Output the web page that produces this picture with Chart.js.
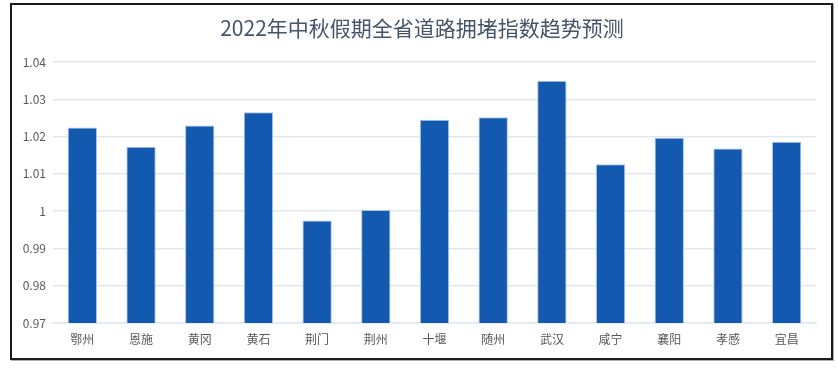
<!DOCTYPE html>
<html>
<head>
<meta charset="utf-8">
<script src="https://cdn.jsdelivr.net/npm/chart.js@4"></script>
<style>
  html, body { margin: 0; padding: 0; background: #ffffff; }
  #wrap { position: relative; width: 838px; height: 373px; }
  #frame {
    position: absolute; left: 10px; top: 3px; width: 823px; height: 357px;
    box-sizing: border-box; border: 2px solid #1c1c1c;
    box-shadow: 1px 1px 0 #b0b0b0; pointer-events: none;
  }
</style>
</head>
<body>
<div id="wrap">
  <canvas id="trafficChart" width="838" height="373"></canvas>
  <div id="frame"></div>
</div>
<script>
// 2022 mid-autumn congestion index forecast per city
const cities = ['鄂州', '恩施', '黄冈', '黄石', '荆门', '荆州', '十堰', '随州', '武汉', '咸宁', '襄阳', '孝感', '宜昌'];
const congestionIndex = [1.0224, 1.0173, 1.0230, 1.0265, 0.9975, 1.0003, 1.0245, 1.0252, 1.0350, 1.0126, 1.0197, 1.0168, 1.0186];
const yTicks = [0.97, 0.98, 0.99, 1, 1.01, 1.02, 1.03, 1.04];
const chartTitle = '2022年中秋假期全省道路拥堵指数趋势预测';

const cjkFont = "'Noto Sans CJK SC', 'Noto Sans', sans-serif";

// title is centred over the whole frame, not the canvas, so draw it by hand
const framedTitle = {
  id: 'framedTitle',
  afterDraw: function(chart) {
    const c = chart.ctx;
    c.save();
    c.font = '21px ' + cjkFont;
    c.fillStyle = '#44546a';
    c.textAlign = 'center';
    c.textBaseline = 'middle';
    c.fillText(chartTitle, 422, 28);
    c.restore();
  }
};

const ctx = document.getElementById('trafficChart').getContext('2d');
new Chart(ctx, {
  type: 'bar',
  data: {
    labels: cities,
    datasets: [
      {
        label: '拥堵指数',
        data: congestionIndex,
        backgroundColor: '#1359b0',
        borderColor: '#a9c6ec',
        borderWidth: 1,
        borderSkipped: 'bottom',
        categoryPercentage: 1,
        barPercentage: 0.5,
      }
    ]
  },
  options: {
    responsive: false,
    animation: false,
    layout: { padding: { left: 0, right: 22, top: 62, bottom: 0 } },
    plugins: {
      legend: { display: false },
      tooltip: { enabled: false },
      title: { display: false }
    },
    scales: {
      y: {
        min: yTicks[0],
        max: yTicks[yTicks.length - 1],
        afterBuildTicks: function(scale) {
          scale.ticks = yTicks.map(function(v) { return { value: v }; });
        },
        afterFit: function(scale) { scale.width = 53; },
        ticks: {
          callback: function(value) { return String(Number(value.toFixed(2))); },
          color: '#595959',
          font: { family: cjkFont, size: 12 },
          padding: 7
        },
        grid: { color: '#e4e7ee', lineWidth: 1.5, drawTicks: false },
        border: { display: false }
      },
      x: {
        afterFit: function(scale) { scale.height = 50; },
        ticks: {
          color: '#595959',
          font: { family: cjkFont, size: 12 },
          padding: 9
        },
        grid: { display: false, drawTicks: false },
        border: { color: '#e4e7ee', width: 1.5 }
      }
    }
  },
  plugins: [framedTitle]
});
</script>
</body>
</html>
